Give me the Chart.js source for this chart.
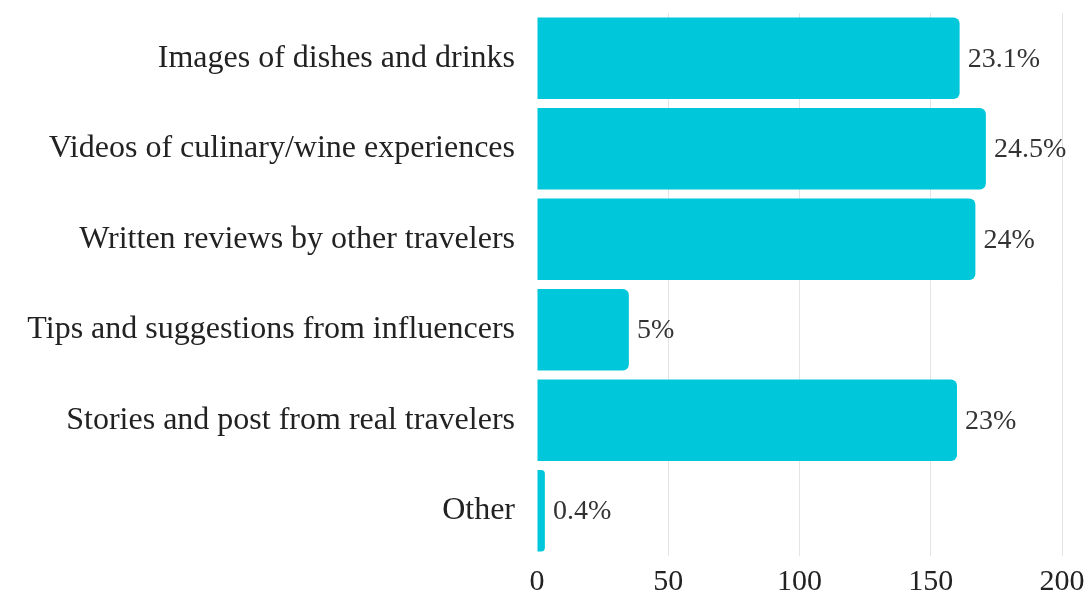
<!DOCTYPE html>
<html>
<head>
<meta charset="utf-8">
<script src="https://cdn.jsdelivr.net/npm/chart.js@4"></script>
<style>
  html, body { margin: 0; padding: 0; background: #fff; }
  #wrap { width: 1091px; height: 596px; }
</style>
</head>
<body>
<div id="wrap"><canvas id="chart"></canvas></div>
<script>
// Sources of inspiration, counts of responses
const categories = [
    'Images of dishes and drinks',
    'Videos of culinary/wine experiences',
    'Written reviews by other travelers',
    'Tips and suggestions from influencers',
    'Stories and post from real travelers',
    'Other'
];
const counts = [161, 171, 167, 35, 160, 3];
const shareLabels = ['23.1%', '24.5%', '24%', '5%', '23%', '0.4%'];
const xTicks = [0, 50, 100, 150, 200];

const serif = "'Liberation Serif', 'DejaVu Serif', serif";

// Draw the share label just past the end of each bar
const barLabels = {
    id: 'barLabels',
    afterDatasetsDraw(chart) {
        const ctx = chart.ctx;
        const meta = chart.getDatasetMeta(0);
        ctx.save();
        ctx.font = '28px ' + serif;
        ctx.fillStyle = '#333';
        ctx.textAlign = 'left';
        ctx.textBaseline = 'middle';
        meta.data.forEach((bar, i) => {
            ctx.fillText(shareLabels[i], bar.x + 8, bar.y + 1);
        });
        ctx.restore();
    }
};

new Chart(document.getElementById('chart').getContext('2d'), {
    type: 'bar',
    data: {
        labels: categories,
        datasets: [{
            data: counts,
            backgroundColor: '#00C8DA',
            borderRadius: 6,
            borderSkipped: 'start',
            barPercentage: 0.9,
            categoryPercentage: 1.0
        }]
    },
    options: {
        indexAxis: 'y',
        responsive: true,
        maintainAspectRatio: false,
        animation: false,
        layout: {
            padding: { top: 13, right: 29, bottom: 0, left: 0 }
        },
        plugins: {
            legend: { display: false },
            tooltip: { enabled: false }
        },
        scales: {
            x: {
                min: 0,
                max: 200,
                afterBuildTicks(axis) {
                    axis.ticks = xTicks.map(v => ({ value: v }));
                },
                afterFit(scale) {
                    scale.height = 40;
                    scale.paddingLeft = 0;
                    scale.paddingRight = 0;
                },
                grid: {
                    color: ctx => ctx.tick && ctx.tick.value === 0 ? 'rgba(0,0,0,0)' : '#e4e4e4',
                    drawTicks: false
                },
                border: { display: false },
                ticks: {
                    padding: 11,
                    color: '#222',
                    font: { family: serif, size: 30, lineHeight: 1.0 }
                }
            },
            y: {
                grid: { display: false, drawTicks: false },
                border: { display: false },
                afterFit(scale) {
                    // fixed label column; no extra vertical padding from tick labels
                    scale.width = 537;
                    scale.paddingTop = 0;
                    scale.paddingBottom = 0;
                },
                ticks: {
                    padding: 22,
                    color: '#222',
                    font: { family: serif, size: 32 }
                }
            }
        }
    },
    plugins: [barLabels]
});
</script>
</body>
</html>
